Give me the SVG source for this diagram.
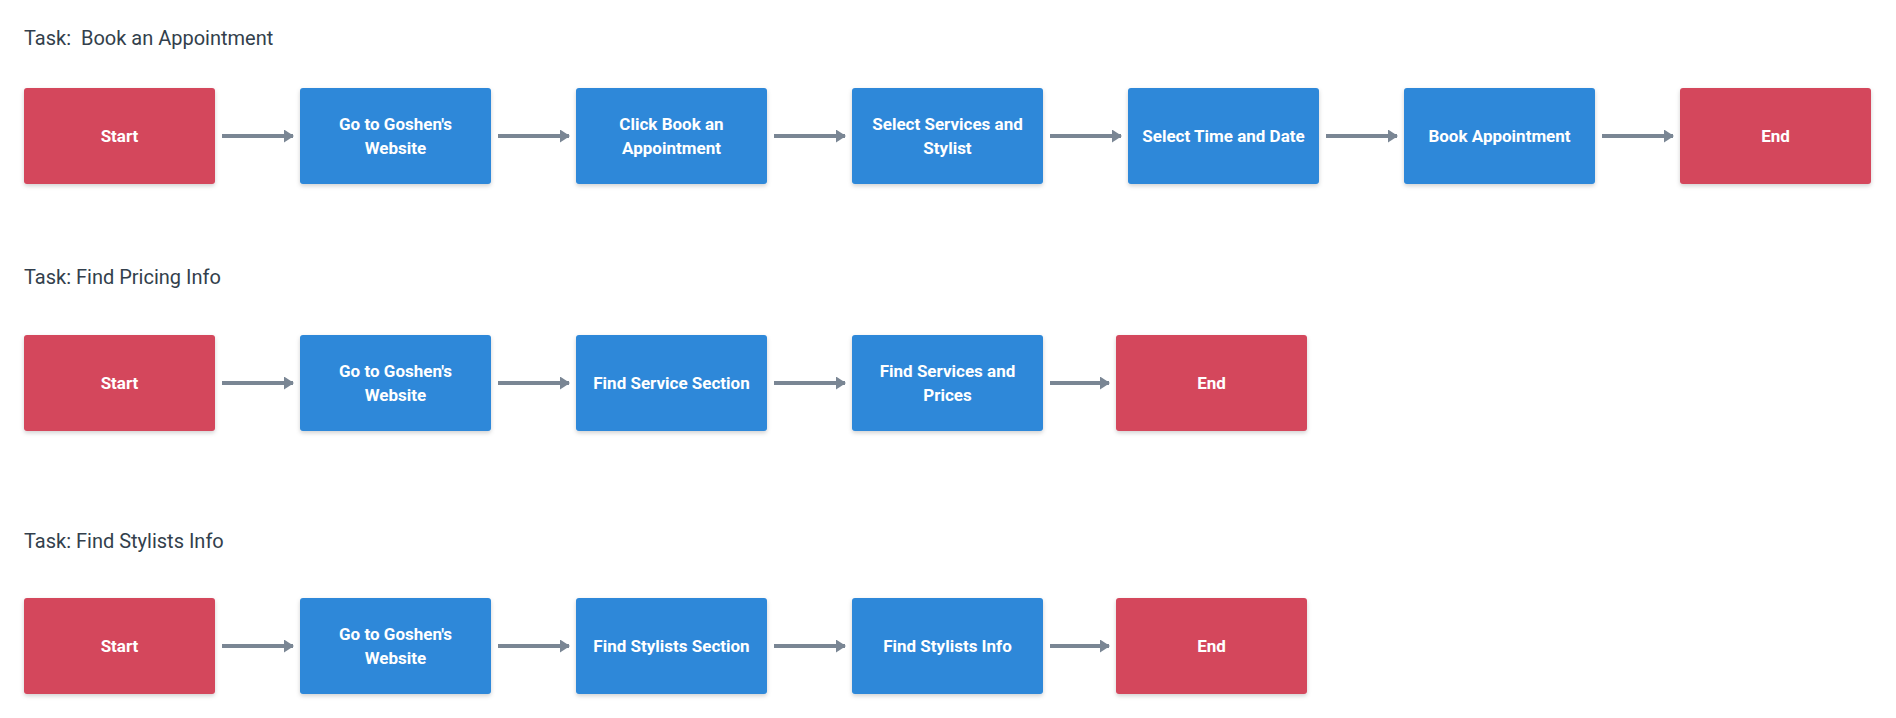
<svg xmlns="http://www.w3.org/2000/svg" width="1896" height="718" viewBox="0 0 1896 718">
<style>
.title{font-family:"Liberation Sans Narrow","Roboto","DejaVu Sans Condensed",sans-serif;font-size:20px;fill:#333f4c}
.lbl{font-family:"Liberation Sans Narrow","Roboto","DejaVu Sans Condensed",sans-serif;font-size:17px;font-weight:bold;fill:#ffffff;text-anchor:middle}
.red{fill:#d4465c}
.blue{fill:#2d88d9}
.conn line{stroke:#7a8694;stroke-width:4}
</style>
<defs>
<filter id="sh" x="-10%" y="-10%" width="120%" height="130%">
<feDropShadow dx="0" dy="2" stdDeviation="2" flood-color="#000" flood-opacity="0.18"/>
</filter>
<marker id="ah" markerWidth="10" markerHeight="13" refX="9" refY="6.5" orient="auto" markerUnits="userSpaceOnUse">
<path d="M0,0 L10,6.5 L0,13 Z" fill="#7a8694"/>
</marker>
</defs>
<rect width="1896" height="718" fill="#ffffff"/>
<text class="title" x="24" y="45" xml:space="preserve">Task:  Book an Appointment</text>
<text class="title" x="24" y="284">Task: Find Pricing Info</text>
<text class="title" x="24" y="548">Task: Find Stylists Info</text>

<g id="r1-start"><rect class="red" x="24" y="88" width="191" height="96" rx="3" filter="url(#sh)"/><text class="lbl" x="119.5" y="142">Start</text></g>
<g id="r1-goshen"><rect class="blue" x="300" y="88" width="191" height="96" rx="3" filter="url(#sh)"/><text class="lbl" x="395.5" y="130">Go to Goshen's</text><text class="lbl" x="395.5" y="154">Website</text></g>
<g id="r1-click"><rect class="blue" x="576" y="88" width="191" height="96" rx="3" filter="url(#sh)"/><text class="lbl" x="671.5" y="130">Click Book an</text><text class="lbl" x="671.5" y="154">Appointment</text></g>
<g id="r1-services"><rect class="blue" x="852" y="88" width="191" height="96" rx="3" filter="url(#sh)"/><text class="lbl" x="947.5" y="130">Select Services and</text><text class="lbl" x="947.5" y="154">Stylist</text></g>
<g id="r1-time"><rect class="blue" x="1128" y="88" width="191" height="96" rx="3" filter="url(#sh)"/><text class="lbl" x="1223.5" y="142">Select Time and Date</text></g>
<g id="r1-book"><rect class="blue" x="1404" y="88" width="191" height="96" rx="3" filter="url(#sh)"/><text class="lbl" x="1499.5" y="142">Book Appointment</text></g>
<g id="r1-end"><rect class="red" x="1680" y="88" width="191" height="96" rx="3" filter="url(#sh)"/><text class="lbl" x="1775.5" y="142">End</text></g>

<g id="r2-start"><rect class="red" x="24" y="335" width="191" height="96" rx="3" filter="url(#sh)"/><text class="lbl" x="119.5" y="389">Start</text></g>
<g id="r2-goshen"><rect class="blue" x="300" y="335" width="191" height="96" rx="3" filter="url(#sh)"/><text class="lbl" x="395.5" y="377">Go to Goshen's</text><text class="lbl" x="395.5" y="401">Website</text></g>
<g id="r2-section"><rect class="blue" x="576" y="335" width="191" height="96" rx="3" filter="url(#sh)"/><text class="lbl" x="671.5" y="389">Find Service Section</text></g>
<g id="r2-prices"><rect class="blue" x="852" y="335" width="191" height="96" rx="3" filter="url(#sh)"/><text class="lbl" x="947.5" y="377">Find Services and</text><text class="lbl" x="947.5" y="401">Prices</text></g>
<g id="r2-end"><rect class="red" x="1116" y="335" width="191" height="96" rx="3" filter="url(#sh)"/><text class="lbl" x="1211.5" y="389">End</text></g>

<g id="r3-start"><rect class="red" x="24" y="598" width="191" height="96" rx="3" filter="url(#sh)"/><text class="lbl" x="119.5" y="652">Start</text></g>
<g id="r3-goshen"><rect class="blue" x="300" y="598" width="191" height="96" rx="3" filter="url(#sh)"/><text class="lbl" x="395.5" y="640">Go to Goshen's</text><text class="lbl" x="395.5" y="664">Website</text></g>
<g id="r3-section"><rect class="blue" x="576" y="598" width="191" height="96" rx="3" filter="url(#sh)"/><text class="lbl" x="671.5" y="652">Find Stylists Section</text></g>
<g id="r3-info"><rect class="blue" x="852" y="598" width="191" height="96" rx="3" filter="url(#sh)"/><text class="lbl" x="947.5" y="652">Find Stylists Info</text></g>
<g id="r3-end"><rect class="red" x="1116" y="598" width="191" height="96" rx="3" filter="url(#sh)"/><text class="lbl" x="1211.5" y="652">End</text></g>

<g id="connectors" class="conn">
<line x1="222" y1="136" x2="293" y2="136" marker-end="url(#ah)"/>
<line x1="498" y1="136" x2="569" y2="136" marker-end="url(#ah)"/>
<line x1="774" y1="136" x2="845" y2="136" marker-end="url(#ah)"/>
<line x1="1050" y1="136" x2="1121" y2="136" marker-end="url(#ah)"/>
<line x1="1326" y1="136" x2="1397" y2="136" marker-end="url(#ah)"/>
<line x1="1602" y1="136" x2="1673" y2="136" marker-end="url(#ah)"/>
<line x1="222" y1="383" x2="293" y2="383" marker-end="url(#ah)"/>
<line x1="498" y1="383" x2="569" y2="383" marker-end="url(#ah)"/>
<line x1="774" y1="383" x2="845" y2="383" marker-end="url(#ah)"/>
<line x1="1050" y1="383" x2="1109" y2="383" marker-end="url(#ah)"/>
<line x1="222" y1="646" x2="293" y2="646" marker-end="url(#ah)"/>
<line x1="498" y1="646" x2="569" y2="646" marker-end="url(#ah)"/>
<line x1="774" y1="646" x2="845" y2="646" marker-end="url(#ah)"/>
<line x1="1050" y1="646" x2="1109" y2="646" marker-end="url(#ah)"/>
</g>
</svg>
